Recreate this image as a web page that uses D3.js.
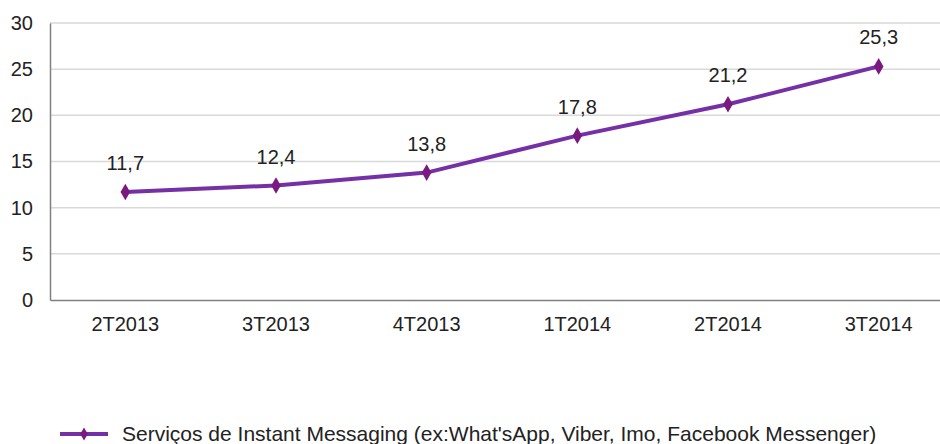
<!DOCTYPE html>
<html>
<head>
<meta charset="utf-8">
<script src="https://cdn.jsdelivr.net/npm/d3@7"></script>
<style>
  body { margin: 0; background: #fff; }
  text { font-family: "Liberation Sans", Arial, sans-serif; fill: #222; }
</style>
</head>
<body>
<svg id="chart" width="940" height="444"></svg>
<script>
// data
const quarters = ["2T2013", "3T2013", "4T2013", "1T2014", "2T2014", "3T2014"];
const imValues = [11.7, 12.4, 13.8, 17.8, 21.2, 25.3];
const yTicks = [0, 5, 10, 15, 20, 25, 30];
const seriesName = "Serviços de Instant Messaging (ex:What'sApp, Viber, Imo, Facebook Messenger)";

const svg = d3.select("#chart");

const PLOT = {left: 50, right: 954, top: 23, bottom: 300};
const FONT = "20px";

const xScale = d3.scaleBand()
  .domain(quarters)
  .range([PLOT.left, PLOT.right]);

const yScale = d3.scaleLinear()
  .domain([0, 30])
  .range([PLOT.bottom, PLOT.top]);

// gridlines
svg.append("g")
  .selectAll("line")
  .data(yTicks.filter(d => d > 0))
  .join("line")
  .attr("x1", PLOT.left)
  .attr("x2", PLOT.right)
  .attr("y1", d => yScale(d))
  .attr("y2", d => yScale(d))
  .attr("stroke", "#d9d9d9")
  .attr("stroke-width", 1.5);

// y axis
const yAxis = svg.append("g")
  .attr("transform", `translate(${PLOT.left},0)`)
  .call(d3.axisLeft(yScale).tickValues(yTicks).tickSize(0).tickPadding(17));
yAxis.select(".domain").attr("stroke", "#808080").attr("stroke-width", 1.5);
yAxis.selectAll("text").style("font-size", FONT).attr("fill", "#222");

// x axis
const xAxis = svg.append("g")
  .attr("transform", `translate(0,${PLOT.bottom})`)
  .call(d3.axisBottom(xScale).tickSize(0).tickPadding(17));
xAxis.select(".domain").attr("stroke", "#808080").attr("stroke-width", 1.5);
xAxis.selectAll("text").style("font-size", FONT).attr("fill", "#222");

const cx = (d, i) => xScale(quarters[i]) + xScale.bandwidth() / 2;

// line
svg.append("path")
  .datum(imValues)
  .attr("d", d3.line()
    .x(cx)
    .y(d => yScale(d)))
  .attr("fill", "none")
  .attr("stroke", "#7530a5")
  .attr("stroke-width", 4);

// diamond markers
const diamond = d3.symbol().type(d3.symbolDiamond).size(80);
svg.append("g")
  .selectAll("path")
  .data(imValues)
  .join("path")
  .attr("d", diamond)
  .attr("transform", (d, i) => `translate(${cx(d, i)},${yScale(d)})`)
  .attr("fill", "#7b1a7e");

// data labels
svg.append("g")
  .selectAll("text")
  .data(imValues)
  .join("text")
  .attr("x", cx)
  .attr("y", d => yScale(d) - 22)
  .attr("text-anchor", "middle")
  .style("font-size", FONT)
  .text(d => d3.format(".1f")(d).replace(".", ","));

// legend
const legend = svg.append("g").attr("transform", "translate(60,434)");
legend.append("line")
  .attr("x1", 0).attr("x2", 48)
  .attr("stroke", "#7530a5").attr("stroke-width", 4);
legend.append("path")
  .attr("d", d3.symbol().type(d3.symbolDiamond).size(50))
  .attr("transform", "translate(24,0)")
  .attr("fill", "#7b1a7e");
legend.append("text")
  .attr("x", 62)
  .attr("y", 7)
  .style("font-size", "21px")
  .text(seriesName);
</script>
</body>
</html>
